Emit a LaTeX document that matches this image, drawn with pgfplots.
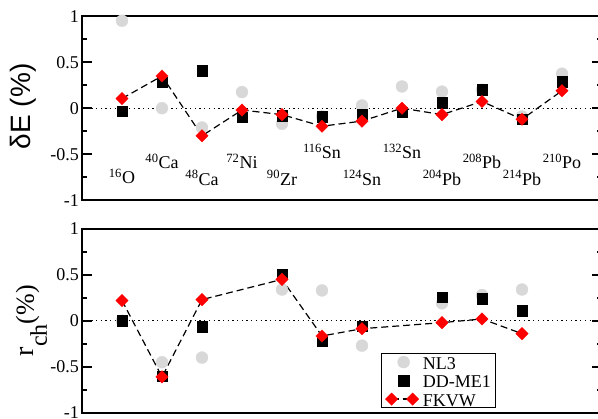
\documentclass[border=0pt]{standalone}
\usepackage{fontspec}
\setmainfont{Liberation Serif}
\newfontfamily\sansf{Liberation Sans}
\usepackage{graphicx}
\usepackage{pgfplots}
\pgfplotsset{compat=1.18}

\definecolor{nlgray}{RGB}{216,216,216}

\pgfplotsset{
 myaxis/.style={
  width=520pt, height=184pt, scale only axis,
  xmin=0, xmax=13, ymin=-1, ymax=1,
  xtick=\empty,
  ytick={-1,-0.5,0,0.5,1},
  yticklabels={-1,-0.5,0,0.5,1},
  minor ytick={-0.75,-0.25,0.25,0.75},
  tick align=inside, ytick pos=both, yticklabel pos=left,
  major tick length=10pt, minor tick length=5pt,
  every tick/.style={black, line width=1.5pt},
  axis line style={line width=2.5pt},
  tick label style={font=\fontsize{18}{18}\selectfont},
  yticklabel style={inner sep=3pt},
  clip=false,
 },
 nl3/.style={only marks, mark=*, mark size=6pt, color=nlgray, mark options={line width=0.3pt}},
 ddme/.style={only marks, mark=square*, mark size=5.2pt, color=black, mark options={line width=0.3pt}},
 fkvw/.style={color=black, dash pattern=on 7pt off 4pt, line width=1.2pt, mark=square*, mark size=4.4pt,
   mark options={solid, fill=red, draw=red, rotate=45, line width=0.3pt}},
 onemark/.style={legend image code/.code={\draw[##1] plot coordinates {(12pt,0pt)};}},
 twomark/.style={legend image code/.code={\draw[##1] plot coordinates {(0pt,0pt) (21pt,0pt)};}},
}

\pgfplotstableread{
x   nl3    ddme    fkvw
1   0.95   -0.03   0.105
2   0.0    0.28    0.35
3   -0.21  0.41    -0.30
4   0.175  -0.10   -0.02
5   -0.17  -0.08   -0.07
6   -0.09  -0.09   -0.196
7   0.03   -0.065  -0.14
8   0.236  -0.04   0.0
9   0.18   0.06    -0.07
10  0.2    0.2     0.073
11  -0.09  -0.12   -0.12
12  0.375  0.29    0.19
}\tabE

\pgfplotstableread{
x   nl3    ddme    fkvw
1   0.0    0.0     0.22
2   -0.45  -0.60   -0.61
3   -0.40  -0.064  0.23
5   0.34   0.51    0.45
6   0.33   -0.22   -0.165
7   -0.27  -0.057  -0.086
9   0.19   0.26    -0.02
10  0.28   0.24    0.02
11  0.34   0.11    -0.14
}\tabR

\begin{document}
\begin{tikzpicture}
\begin{axis}[myaxis, at={(0pt,0pt)}, anchor=north west,
  ylabel={\sansf\fontsize{28}{28}\selectfont δE (\%)},
  ylabel style={at={(axis description cs:-0.1125,0.51)}, anchor=center},
]
\addplot[forget plot, black, line width=1pt, dash pattern=on 1.3pt off 3.4pt] coordinates {(0,0) (13,0)};
\addplot[nl3] table[x=x, y=nl3] {\tabE};
\addplot[ddme] table[x=x, y=ddme] {\tabE};
\addplot[fkvw] table[x=x, y=fkvw] {\tabE};
\begin{scope}[every node/.style={anchor=base, font=\fontsize{18}{18}\selectfont}]
\node at (axis cs:1,-0.82) {\textsuperscript{16}O};
\node at (axis cs:2,-0.655) {\textsuperscript{40}Ca};
\node at (axis cs:3,-0.835) {\textsuperscript{48}Ca};
\node at (axis cs:4,-0.655) {\textsuperscript{72}Ni};
\node at (axis cs:5,-0.835) {\textsuperscript{90}Zr};
\node at (axis cs:6,-0.545) {\textsuperscript{116}Sn};
\node at (axis cs:7,-0.835) {\textsuperscript{124}Sn};
\node at (axis cs:8,-0.545) {\textsuperscript{132}Sn};
\node at (axis cs:9,-0.835) {\textsuperscript{204}Pb};
\node at (axis cs:10,-0.655) {\textsuperscript{208}Pb};
\node at (axis cs:11,-0.835) {\textsuperscript{214}Pb};
\node at (axis cs:12,-0.655) {\textsuperscript{210}Po};
\end{scope}
\end{axis}

\begin{axis}[myaxis, at={(0pt,-212.6pt)}, anchor=north west,
  ylabel={{\fontsize{28}{28}\selectfont r}\raisebox{-13pt}{\fontsize{24}{24}\selectfont ch}{\fontsize{26}{26}\selectfont(\%)}},
  ylabel style={at={(axis description cs:-0.097,0.5)}, anchor=center},
  legend style={at={(axis cs:7.475,-0.352)}, anchor=north west, draw=black, line width=0.8pt,
    inner xsep=4pt, inner ysep=1pt, font=\fontsize{18}{18}\selectfont, row sep=3.5pt, column sep=3pt,
    nodes={inner xsep=1pt, inner ysep=0.5pt, text height=14pt, text depth=0pt}},
  legend cell align=left,
]
\addplot[forget plot, black, line width=1pt, dash pattern=on 1.3pt off 3.4pt] coordinates {(0,0) (13,0)};
\addplot[nl3, onemark] table[x=x, y=nl3] {\tabR};
\addlegendentry{NL3}
\addplot[ddme, onemark] table[x=x, y=ddme] {\tabR};
\addlegendentry{DD-ME1}
\addplot[fkvw, twomark] table[x=x, y=fkvw] {\tabR};
\addlegendentry{FKVW}
\end{axis}
\pgfresetboundingbox
\useasboundingbox (-82pt,16.2pt) rectangle (516pt,-402.8pt);
\end{tikzpicture}
\end{document}
